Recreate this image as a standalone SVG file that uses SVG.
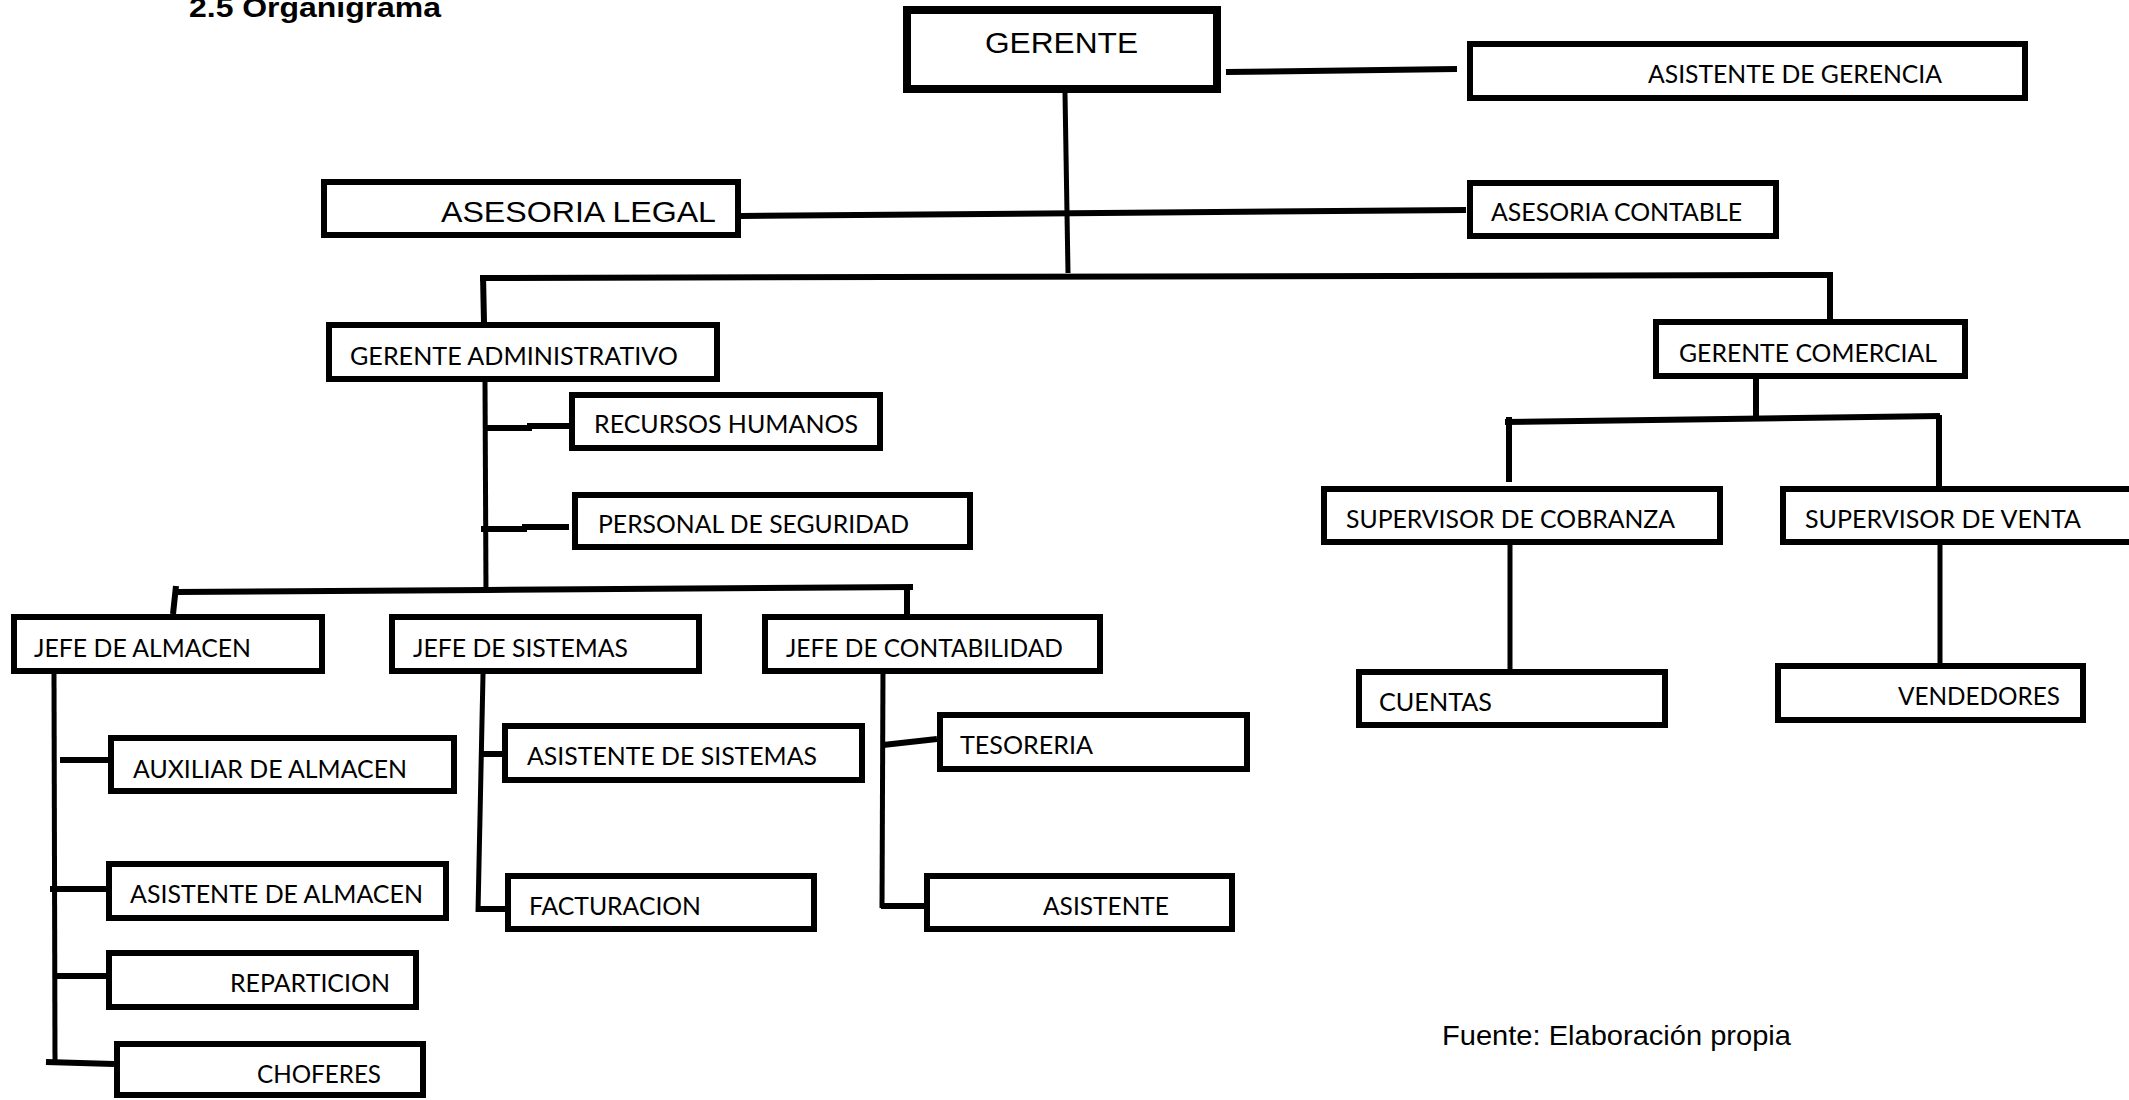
<svg xmlns="http://www.w3.org/2000/svg" width="2129" height="1100" viewBox="0 0 2129 1100">
<style>
.bg{fill:#fff}
.box{fill:#fff;stroke:#000;stroke-width:6}
.big{stroke-width:8}
.c{fill:none;stroke:#000;stroke-width:6;stroke-linecap:butt}
.thin{stroke-width:5}
.t{font-family:Lato,"Open Sans",sans-serif;font-size:25px;fill:#000}
.a{font-family:"Liberation Sans",Arial,sans-serif;font-size:30px;fill:#000}
.title{font-family:"Liberation Sans",Arial,sans-serif;font-size:28px;font-weight:bold;fill:#000}
</style>
<rect class="bg" x="0" y="0" width="2129" height="1100"/>
<text class="title" x="189" y="17" textLength="252" lengthAdjust="spacingAndGlyphs">2.5 Organigrama</text>

<g id="connectors">
<path class="c" d="M1226 72 L1457 69"/>
<path class="c" d="M741 216 L1466 210"/>
<path class="c thin" d="M1065 93 L1068 273"/>
<path class="c" d="M480 278 L1833 275"/>
<path class="c" d="M483 275 L484 323"/>
<path class="c" d="M1830 275 L1830 322"/>
<path class="c thin" d="M485 382 L486 592"/>
<path class="c" d="M485 428 L532 428"/>
<path class="c" d="M527 426 L570 426"/>
<path class="c" d="M481 529 L527 529"/>
<path class="c" d="M522 527 L569 527"/>
<path class="c" d="M176 592 L487 590 L913 587"/>
<path class="c" d="M176 586 L173 614"/>
<path class="c" d="M907 587 L907 615"/>
<path class="c thin" d="M54 674 L55 1062"/>
<path class="c" d="M60 760 L115 760"/>
<path class="c" d="M50 889 L106 889"/>
<path class="c" d="M55 976 L106 976"/>
<path class="c" d="M46 1062 L114 1064"/>
<path class="c thin" d="M483 674 L478 912"/>
<path class="c" d="M481 754 L510 754"/>
<path class="c" d="M477 909 L505 909"/>
<path class="c thin" d="M883 667 L882 908"/>
<path class="c" d="M883 745 L937 739"/>
<path class="c" d="M881 906 L924 906"/>
<path class="c" d="M1756 379 L1756 418"/>
<path class="c" d="M1505 422 L1940 416"/>
<path class="c" d="M1509 417 L1509 482"/>
<path class="c" d="M1939 415 L1939 493"/>
<path class="c thin" d="M1510 545 L1510 669"/>
<path class="c thin" d="M1940 545 L1940 671"/>
</g>

<g id="gerente"><rect class="box big" x="907" y="10" width="310" height="79"/><text class="a" x="985" y="53" textLength="153" lengthAdjust="spacingAndGlyphs">GERENTE</text></g>
<g id="asistente-gerencia"><rect class="box" x="1470" y="44" width="555" height="54"/><text class="t" x="1648" y="83" textLength="294" lengthAdjust="spacingAndGlyphs">ASISTENTE DE GERENCIA</text></g>
<g id="asesoria-legal"><rect class="box" x="324" y="182" width="414" height="53"/><text class="a" x="441" y="222" textLength="275" lengthAdjust="spacingAndGlyphs">ASESORIA LEGAL</text></g>
<g id="asesoria-contable"><rect class="box" x="1470" y="183" width="306" height="53"/><text class="t" x="1491" y="221" textLength="251" lengthAdjust="spacingAndGlyphs">ASESORIA CONTABLE</text></g>
<g id="gerente-administrativo"><rect class="box" x="329" y="325" width="388" height="54"/><text class="t" x="350" y="365" textLength="328" lengthAdjust="spacingAndGlyphs">GERENTE ADMINISTRATIVO</text></g>
<g id="recursos-humanos"><rect class="box" x="572" y="395" width="308" height="53"/><text class="t" x="594" y="433" textLength="264" lengthAdjust="spacingAndGlyphs">RECURSOS HUMANOS</text></g>
<g id="personal-seguridad"><rect class="box" x="575" y="495" width="395" height="52"/><text class="t" x="598" y="533" textLength="311" lengthAdjust="spacingAndGlyphs">PERSONAL DE SEGURIDAD</text></g>
<g id="jefe-almacen"><rect class="box" x="14" y="617" width="308" height="54"/><text class="t" x="34" y="657" textLength="217" lengthAdjust="spacingAndGlyphs">JEFE DE ALMACEN</text></g>
<g id="jefe-sistemas"><rect class="box" x="392" y="617" width="307" height="54"/><text class="t" x="413" y="657" textLength="215" lengthAdjust="spacingAndGlyphs">JEFE DE SISTEMAS</text></g>
<g id="jefe-contabilidad"><rect class="box" x="765" y="617" width="335" height="54"/><text class="t" x="786" y="657" textLength="277" lengthAdjust="spacingAndGlyphs">JEFE DE CONTABILIDAD</text></g>
<g id="gerente-comercial"><rect class="box" x="1656" y="322" width="309" height="54"/><text class="t" x="1679" y="362" textLength="258" lengthAdjust="spacingAndGlyphs">GERENTE COMERCIAL</text></g>
<g id="supervisor-cobranza"><rect class="box" x="1324" y="489" width="396" height="53"/><text class="t" x="1346" y="528" textLength="329" lengthAdjust="spacingAndGlyphs">SUPERVISOR DE COBRANZA</text></g>
<g id="supervisor-venta"><rect class="box" x="1783" y="489" width="400" height="53"/><text class="t" x="1805" y="528" textLength="276" lengthAdjust="spacingAndGlyphs">SUPERVISOR DE VENTA</text></g>
<g id="cuentas"><rect class="box" x="1359" y="672" width="306" height="53"/><text class="t" x="1379" y="711" textLength="113" lengthAdjust="spacingAndGlyphs">CUENTAS</text></g>
<g id="vendedores"><rect class="box" x="1778" y="666" width="305" height="54"/><text class="t" x="1898" y="705" textLength="162" lengthAdjust="spacingAndGlyphs">VENDEDORES</text></g>
<g id="auxiliar-almacen"><rect class="box" x="111" y="738" width="343" height="53"/><text class="t" x="133" y="778" textLength="274" lengthAdjust="spacingAndGlyphs">AUXILIAR DE ALMACEN</text></g>
<g id="asistente-almacen"><rect class="box" x="109" y="864" width="337" height="54"/><text class="t" x="130" y="903" textLength="293" lengthAdjust="spacingAndGlyphs">ASISTENTE DE ALMACEN</text></g>
<g id="reparticion"><rect class="box" x="109" y="953" width="307" height="54"/><text class="t" x="230" y="992" textLength="160" lengthAdjust="spacingAndGlyphs">REPARTICION</text></g>
<g id="choferes"><rect class="box" x="117" y="1044" width="306" height="51"/><text class="t" x="257" y="1083" textLength="124" lengthAdjust="spacingAndGlyphs">CHOFERES</text></g>
<g id="asistente-sistemas"><rect class="box" x="505" y="726" width="357" height="54"/><text class="t" x="527" y="765" textLength="290" lengthAdjust="spacingAndGlyphs">ASISTENTE DE SISTEMAS</text></g>
<g id="facturacion"><rect class="box" x="508" y="876" width="306" height="53"/><text class="t" x="529" y="915" textLength="172" lengthAdjust="spacingAndGlyphs">FACTURACION</text></g>
<g id="tesoreria"><rect class="box" x="940" y="715" width="307" height="54"/><text class="t" x="960" y="754" textLength="133" lengthAdjust="spacingAndGlyphs">TESORERIA</text></g>
<g id="asistente"><rect class="box" x="927" y="876" width="305" height="53"/><text class="t" x="1043" y="915" textLength="126" lengthAdjust="spacingAndGlyphs">ASISTENTE</text></g>

<text class="a" x="1442" y="1045" style="font-size:28.5px" textLength="349" lengthAdjust="spacingAndGlyphs">Fuente: Elaboración propia</text>
</svg>
